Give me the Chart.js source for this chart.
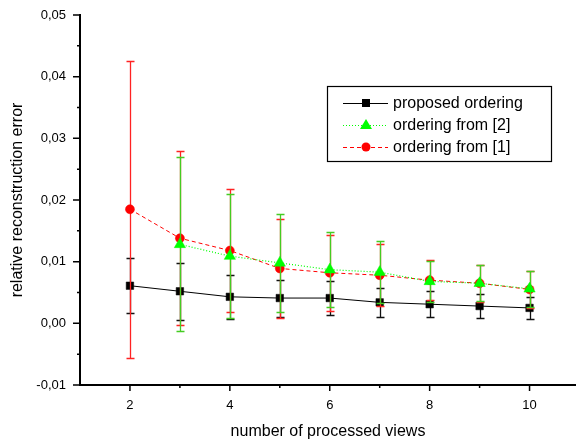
<!DOCTYPE html>
<html>
<head>
<meta charset="utf-8">
<script src="https://cdn.jsdelivr.net/npm/chart.js@4.4.1/dist/chart.umd.min.js"></script>
<style>
    html, body { margin: 0; padding: 0; background: #fff; }
    canvas { display: block; }
</style>
</head>
<body>
<canvas id="errChart" width="576" height="441"></canvas>
<script>
// number of processed views
const views = [2, 3, 4, 5, 6, 7, 8, 9, 10];

// proposed ordering
const proposed    = [0.0061, 0.0052, 0.0043, 0.0041, 0.0041, 0.0034, 0.0031, 0.0028, 0.0025];
const proposedErr = [0.0045, 0.0046, 0.0036, 0.0030, 0.0027, 0.0024, 0.0021, 0.0020, 0.0018];

// ordering from [2] (no value at 2 views)
const from2    = [null, 0.0128, 0.0109, 0.0098, 0.0087, 0.0083, 0.0068, 0.0065, 0.0056];
const from2Err = [null, 0.0141, 0.0101, 0.0080, 0.0061, 0.0050, 0.0033, 0.0029, 0.0029];

// ordering from [1]
const from1    = [0.0185, 0.0138, 0.0118, 0.0089, 0.0082, 0.0078, 0.0070, 0.0065, 0.0055];
const from1Err = [0.0241, 0.0141, 0.0100, 0.0080, 0.0062, 0.0050, 0.0032, 0.0030, 0.0030];

const xTicks = [2, 4, 6, 8, 10];
const yTicks = [-0.01, 0, 0.01, 0.02, 0.03, 0.04, 0.05];
const seriesNames = ['proposed ordering', 'ordering from [2]', 'ordering from [1]'];

const FONT = "'Liberation Sans', Arial, sans-serif";

function toPoints(vals, errs) {
    return views
        .map((v, i) => vals[i] == null ? null : { x: v, y: vals[i], err: errs[i] })
        .filter(p => p);
}

// marker drawing shared by the legend
function drawMarker(ctx, style, x, y, color) {
    ctx.save();
    ctx.fillStyle = color;
    ctx.beginPath();
    if (style === 'rect') {
        ctx.rect(x - 4, y - 4, 8, 8);
    } else if (style === 'triangle') {
        ctx.moveTo(x, y - 6);
        ctx.lineTo(x + 6, y + 4);
        ctx.lineTo(x - 6, y + 4);
        ctx.closePath();
    } else {
        ctx.arc(x, y, 4.5, 0, Math.PI * 2);
    }
    ctx.fill();
    ctx.restore();
}

// vertical error bars with caps, drawn under each dataset's own markers
const errorBars = {
    id: 'errorBars',
    beforeDatasetDraw(chart, args) {
        const ds = chart.data.datasets[args.index];
        const ys = chart.scales.y;
        const ctx = chart.ctx;
        ctx.save();
        ctx.strokeStyle = ds.errColor;
        ctx.lineWidth = 1.3;
        ctx.setLineDash([]);
        args.meta.data.forEach((el, j) => {
            const p = ds.data[j];
            const px = Math.round(el.x) + 0.5;
            const top = Math.round(ys.getPixelForValue(p.y + p.err)) + 0.5;
            const bot = Math.round(ys.getPixelForValue(p.y - p.err)) + 0.5;
            ctx.beginPath();
            ctx.moveTo(px, top); ctx.lineTo(px, bot);
            ctx.moveTo(px - 4, top); ctx.lineTo(px + 4, top);
            ctx.moveTo(px - 4, bot); ctx.lineTo(px + 4, bot);
            ctx.stroke();
        });
        ctx.restore();
    }
};

// outward major and minor tick marks
const tickMarks = {
    id: 'tickMarks',
    afterDraw(chart) {
        const { ctx, chartArea, scales } = chart;
        ctx.save();
        ctx.strokeStyle = '#000';
        ctx.lineWidth = 1.5;
        ctx.beginPath();
        yTicks.forEach((v, i) => {
            const py = scales.y.getPixelForValue(v);
            ctx.moveTo(chartArea.left, py); ctx.lineTo(chartArea.left - 7, py);
            if (i < yTicks.length - 1) {
                const pm = scales.y.getPixelForValue((v + yTicks[i + 1]) / 2);
                ctx.moveTo(chartArea.left, pm); ctx.lineTo(chartArea.left - 3, pm);
            }
        });
        xTicks.forEach((v, i) => {
            const px = scales.x.getPixelForValue(v);
            ctx.moveTo(px, chartArea.bottom); ctx.lineTo(px, chartArea.bottom + 6);
            if (i < xTicks.length - 1) {
                const pm = scales.x.getPixelForValue((v + xTicks[i + 1]) / 2);
                ctx.moveTo(pm, chartArea.bottom); ctx.lineTo(pm, chartArea.bottom + 3);
            }
        });
        ctx.stroke();
        ctx.restore();
    }
};

// boxed legend inside the plot
const boxLegend = {
    id: 'boxLegend',
    afterDraw(chart) {
        const ctx = chart.ctx;
        const bx = 327, by = 86, bw = 224, bh = 75;
        ctx.save();
        ctx.strokeStyle = '#000';
        ctx.lineWidth = 1.2;
        ctx.strokeRect(bx + 0.5, by + 0.5, bw, bh);
        ctx.font = '16px ' + FONT;
        ctx.textBaseline = 'middle';
        ctx.fillStyle = '#000';
        chart.data.datasets.forEach((ds, i) => {
            const y = by + 17 + i * 22;
            ctx.save();
            ctx.strokeStyle = ds.borderColor;
            ctx.lineWidth = 1;
            ctx.setLineDash(ds.borderDash || []);
            ctx.beginPath();
            ctx.moveTo(343, y + 0.5); ctx.lineTo(388, y + 0.5);
            ctx.stroke();
            ctx.restore();
            drawMarker(ctx, ds.pointStyle, 366, y, ds.pointBackgroundColor);
            ctx.fillText(ds.label, 393, y + 1);
        });
        ctx.restore();
    }
};

const ctx = document.getElementById('errChart');
new Chart(ctx, {
    type: 'line',
    data: {
        datasets: [
            {
                label: seriesNames[0],
                data: toPoints(proposed, proposedErr),
                borderColor: '#000000',
                pointBackgroundColor: '#000000',
                pointBorderColor: '#000000',
                errColor: '#111111',
                borderWidth: 1,
                pointStyle: 'rect',
                pointRadius: 5.3,
                pointBorderWidth: 0.5,
                order: 3
            },
            {
                label: seriesNames[1],
                data: toPoints(from2, from2Err),
                borderColor: '#00ff00',
                pointBackgroundColor: '#00ff00',
                pointBorderColor: '#00ff00',
                errColor: '#44cc22',
                borderWidth: 1.2,
                borderDash: [1, 2],
                pointStyle: 'triangle',
                pointRadius: 6.5,
                pointBorderWidth: 0.5,
                order: 1
            },
            {
                label: seriesNames[2],
                data: toPoints(from1, from1Err),
                borderColor: '#ff0000',
                pointBackgroundColor: '#ff0000',
                pointBorderColor: '#ff0000',
                errColor: '#ff2222',
                borderWidth: 1,
                borderDash: [4, 3],
                pointStyle: 'circle',
                pointRadius: 4.5,
                pointBorderWidth: 0.5,
                order: 2
            }
        ]
    },
    options: {
        responsive: false,
        animation: false,
        devicePixelRatio: 1,
        layout: {
            autoPadding: false,
            padding: { top: 15, right: 0, bottom: 0, left: 0 }
        },
        plugins: {
            legend: { display: false },
            tooltip: { enabled: false }
        },
        elements: { line: { tension: 0 } },
        scales: {
            x: {
                type: 'linear',
                min: 1,
                max: 10.93,
                afterBuildTicks: s => { s.ticks = xTicks.map(v => ({ value: v })); },
                afterFit: s => { s.height = 56; s.paddingLeft = 0; s.paddingRight = 0; },
                grid: { display: false, drawTicks: false },
                border: { color: '#000', width: 2 },
                ticks: {
                    padding: 13,
                    color: '#000',
                    maxRotation: 0,
                    font: { family: FONT, size: 13 }
                },
                title: {
                    display: true,
                    text: 'number of processed views',
                    color: '#000',
                    font: { family: FONT, size: 16 },
                    padding: { top: 0, bottom: 0 }
                }
            },
            y: {
                type: 'linear',
                min: -0.01,
                max: 0.05,
                afterBuildTicks: s => { s.ticks = yTicks.map(v => ({ value: v })); },
                afterFit: s => { s.width = 80; s.paddingTop = 0; s.paddingBottom = 0; },
                grid: { display: false, drawTicks: false },
                border: { color: '#000', width: 2 },
                ticks: {
                    padding: 14,
                    color: '#000',
                    font: { family: FONT, size: 13 },
                    callback: v => v.toFixed(2).replace('.', ',')
                },
                title: {
                    display: true,
                    text: 'relative reconstruction error',
                    color: '#000',
                    font: { family: FONT, size: 16 },
                    padding: { top: 8, bottom: 0 }
                }
            }
        }
    },
    plugins: [errorBars, tickMarks, boxLegend]
});
</script>
</body>
</html>
